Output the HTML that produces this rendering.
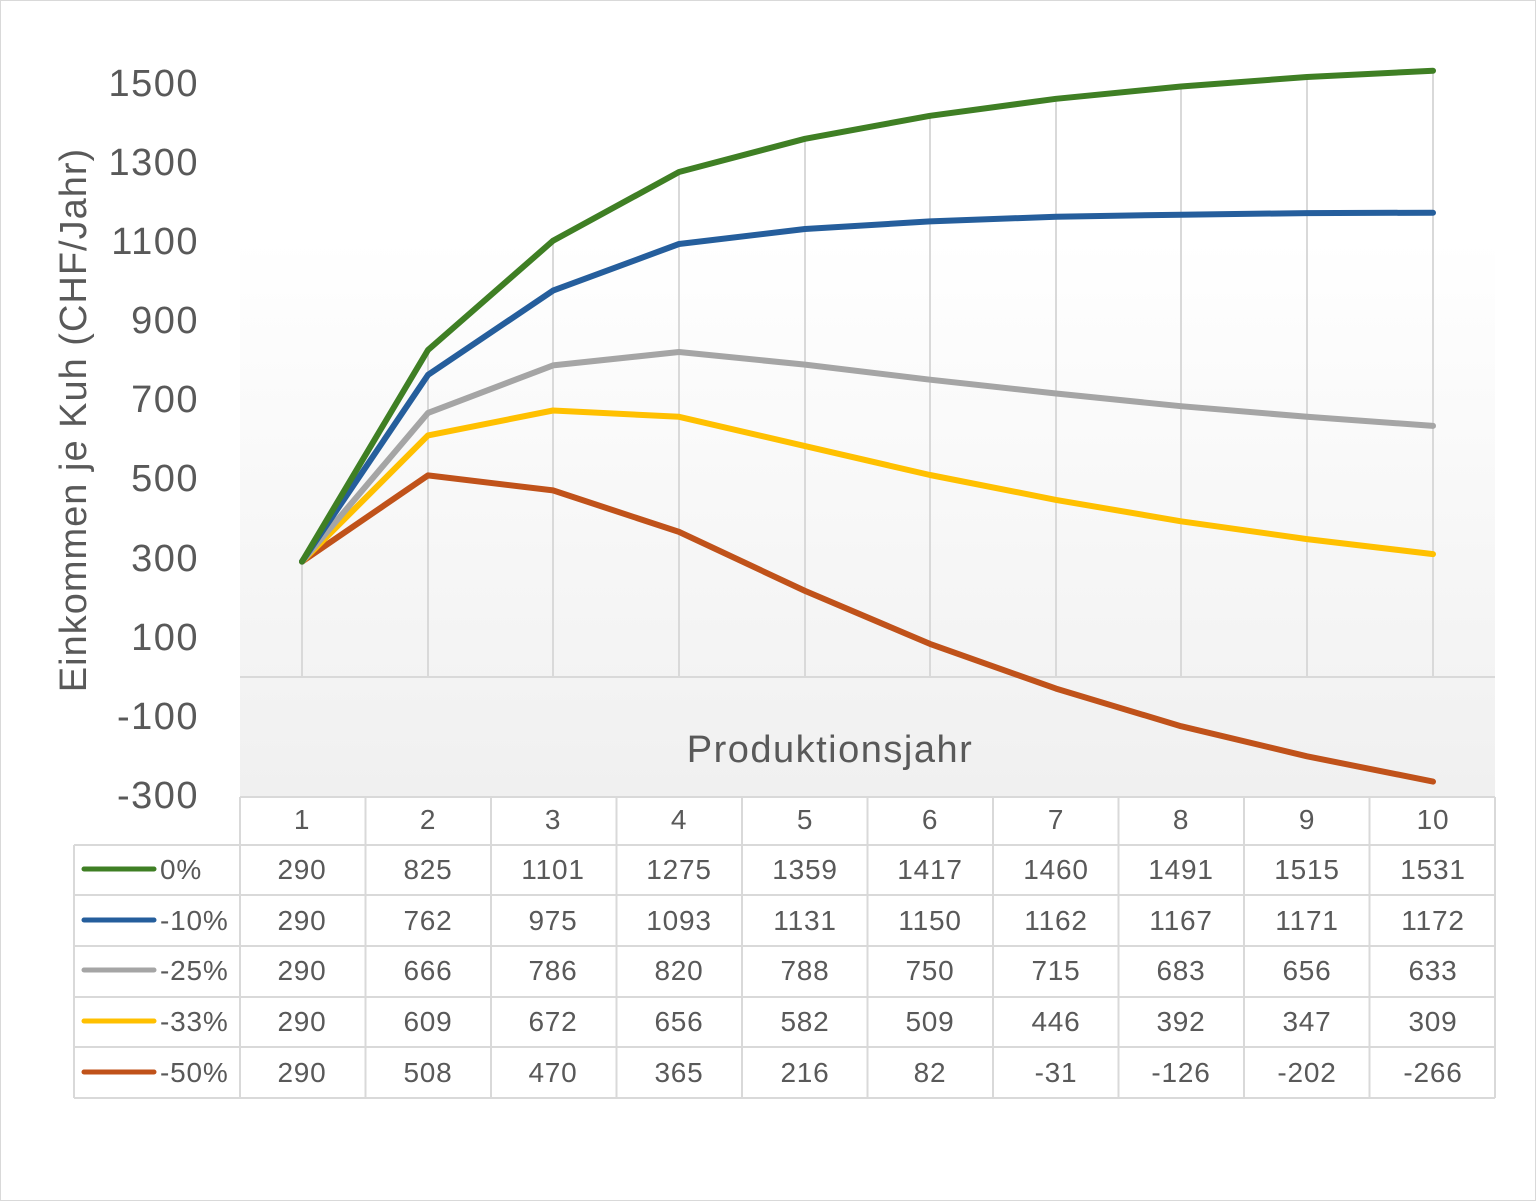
<!DOCTYPE html>
<html><head><meta charset="utf-8"><style>
html,body{margin:0;padding:0;background:#fff}
svg{display:block}
text{font-family:"Liberation Sans",sans-serif;fill:#595959}
</style></head><body>
<svg width="1536" height="1201" viewBox="0 0 1536 1201">
<defs>
<linearGradient id="bg" x1="0" y1="0" x2="0" y2="1">
<stop offset="0" stop-color="#ffffff"/>
<stop offset="0.25" stop-color="#fbfbfb"/>
<stop offset="1" stop-color="#f0f0f0"/>
</linearGradient>
</defs>
<rect x="0.5" y="0.5" width="1535" height="1200" fill="#fff" stroke="#d9d9d9"/>
<rect x="240" y="240" width="1255" height="557" fill="url(#bg)"/>
<g stroke="#d9d9d9" stroke-width="2">
<line x1="302" y1="562" x2="302" y2="677"/>
<line x1="428" y1="350" x2="428" y2="677"/>
<line x1="553" y1="241" x2="553" y2="677"/>
<line x1="679" y1="172" x2="679" y2="677"/>
<line x1="805" y1="139" x2="805" y2="677"/>
<line x1="930" y1="116" x2="930" y2="677"/>
<line x1="1056" y1="99" x2="1056" y2="677"/>
<line x1="1181" y1="87" x2="1181" y2="677"/>
<line x1="1307" y1="77" x2="1307" y2="677"/>
<line x1="1433" y1="71" x2="1433" y2="677"/>
<line x1="240" y1="677" x2="1495" y2="677"/>
</g>
<g fill="none" stroke-width="6" stroke-linejoin="round" stroke-linecap="round">
<polyline stroke="#c0521a" points="302,561.6 428,475.4 553,490.4 679,531.9 805,590.9 930,643.9 1056,688.6 1181,726.2 1307,756.3 1433,781.6"/>
<polyline stroke="#ffc000" points="302,561.6 428,435.4 553,410.5 679,416.8 805,446.1 930,475 1056,499.9 1181,521.3 1307,539.1 1433,554.1"/>
<polyline stroke="#a5a5a5" points="302,561.6 428,412.9 553,365.4 679,352 805,364.6 930,379.7 1056,393.5 1181,406.2 1307,416.8 1433,425.9"/>
<polyline stroke="#255e9c" points="302,561.6 428,374.9 553,290.6 679,244 805,229 930,221.4 1056,216.7 1181,214.7 1307,213.1 1433,212.7"/>
<polyline stroke="#3f7f24" points="302,561.6 428,350 553,240.8 679,172 805,138.8 930,115.8 1056,98.8 1181,86.5 1307,77 1433,70.7"/>
</g>
<g font-size="38" text-anchor="end" letter-spacing="1.5">
<text x="199" y="96">1500</text>
<text x="199" y="175">1300</text>
<text x="199" y="254">1100</text>
<text x="199" y="333">900</text>
<text x="199" y="412">700</text>
<text x="199" y="491">500</text>
<text x="199" y="571">300</text>
<text x="199" y="650">100</text>
<text x="199" y="729">-100</text>
<text x="199" y="808">-300</text>
</g>
<text x="86" y="420" font-size="38" letter-spacing="1" text-anchor="middle" transform="rotate(-90 86 420)">Einkommen je Kuh  (CHF/Jahr)</text>
<text x="830" y="762" font-size="38" letter-spacing="1.5" text-anchor="middle">Produktionsjahr</text>
<g stroke="#d9d9d9" stroke-width="2" fill="none">
<line x1="240" y1="797" x2="1495" y2="797"/>
<line x1="74" y1="845" x2="1495" y2="845"/>
<line x1="74" y1="895" x2="1495" y2="895"/>
<line x1="74" y1="946" x2="1495" y2="946"/>
<line x1="74" y1="997" x2="1495" y2="997"/>
<line x1="74" y1="1047" x2="1495" y2="1047"/>
<line x1="74" y1="1098" x2="1495" y2="1098"/>
<line x1="74" y1="845" x2="74" y2="1098"/>
<line x1="240" y1="797" x2="240" y2="1098"/>
<line x1="365.5" y1="797" x2="365.5" y2="1098"/>
<line x1="491" y1="797" x2="491" y2="1098"/>
<line x1="616.5" y1="797" x2="616.5" y2="1098"/>
<line x1="742" y1="797" x2="742" y2="1098"/>
<line x1="867.5" y1="797" x2="867.5" y2="1098"/>
<line x1="993" y1="797" x2="993" y2="1098"/>
<line x1="1118.5" y1="797" x2="1118.5" y2="1098"/>
<line x1="1244" y1="797" x2="1244" y2="1098"/>
<line x1="1369.5" y1="797" x2="1369.5" y2="1098"/>
<line x1="1495" y1="797" x2="1495" y2="1098"/>
</g>
<g stroke-width="5" stroke-linecap="round">
<line x1="84" y1="869" x2="154" y2="869" stroke="#3f7f24"/>
<line x1="84" y1="920" x2="154" y2="920" stroke="#255e9c"/>
<line x1="84" y1="970" x2="154" y2="970" stroke="#a5a5a5"/>
<line x1="84" y1="1021" x2="154" y2="1021" stroke="#ffc000"/>
<line x1="84" y1="1072" x2="154" y2="1072" stroke="#c0521a"/>
</g>
<g font-size="28" letter-spacing="0.8">
<text x="160" y="879">0%</text>
<text x="160" y="930">-10%</text>
<text x="160" y="980">-25%</text>
<text x="160" y="1031">-33%</text>
<text x="160" y="1082">-50%</text>
</g>
<g font-size="28" letter-spacing="0.8" text-anchor="middle">
<text y="829"><tspan x="302">1</tspan><tspan x="428">2</tspan><tspan x="553">3</tspan><tspan x="679">4</tspan><tspan x="805">5</tspan><tspan x="930">6</tspan><tspan x="1056">7</tspan><tspan x="1181">8</tspan><tspan x="1307">9</tspan><tspan x="1433">10</tspan></text>
<text y="879"><tspan x="302">290</tspan><tspan x="428">825</tspan><tspan x="553">1101</tspan><tspan x="679">1275</tspan><tspan x="805">1359</tspan><tspan x="930">1417</tspan><tspan x="1056">1460</tspan><tspan x="1181">1491</tspan><tspan x="1307">1515</tspan><tspan x="1433">1531</tspan></text>
<text y="930"><tspan x="302">290</tspan><tspan x="428">762</tspan><tspan x="553">975</tspan><tspan x="679">1093</tspan><tspan x="805">1131</tspan><tspan x="930">1150</tspan><tspan x="1056">1162</tspan><tspan x="1181">1167</tspan><tspan x="1307">1171</tspan><tspan x="1433">1172</tspan></text>
<text y="980"><tspan x="302">290</tspan><tspan x="428">666</tspan><tspan x="553">786</tspan><tspan x="679">820</tspan><tspan x="805">788</tspan><tspan x="930">750</tspan><tspan x="1056">715</tspan><tspan x="1181">683</tspan><tspan x="1307">656</tspan><tspan x="1433">633</tspan></text>
<text y="1031"><tspan x="302">290</tspan><tspan x="428">609</tspan><tspan x="553">672</tspan><tspan x="679">656</tspan><tspan x="805">582</tspan><tspan x="930">509</tspan><tspan x="1056">446</tspan><tspan x="1181">392</tspan><tspan x="1307">347</tspan><tspan x="1433">309</tspan></text>
<text y="1082"><tspan x="302">290</tspan><tspan x="428">508</tspan><tspan x="553">470</tspan><tspan x="679">365</tspan><tspan x="805">216</tspan><tspan x="930">82</tspan><tspan x="1056">-31</tspan><tspan x="1181">-126</tspan><tspan x="1307">-202</tspan><tspan x="1433">-266</tspan></text>
</g>
</svg>
</body></html>
